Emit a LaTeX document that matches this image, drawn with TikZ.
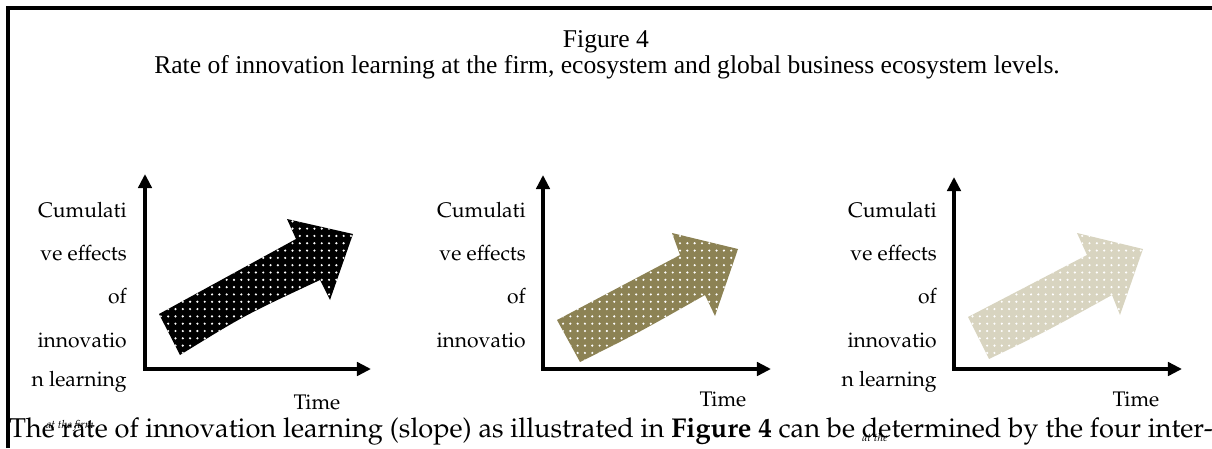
\documentclass[tikz,border=0pt]{standalone}
\usepackage[T1]{fontenc}
\usepackage{fontspec}
\setmainfont{Liberation Serif}
\usetikzlibrary{arrows.meta,patterns.meta}
\newcommand{\pala}{\fontencoding{T1}\fontfamily{ppl}\selectfont}
\definecolor{darkolive}{RGB}{140,130,84}
\definecolor{palekhaki}{RGB}{216,212,192}

\begin{document}
\begin{tikzpicture}[x=0.025cm, y=-0.025cm, >={Triangle[length=10pt,width=9.5pt]},
  axis/.style={line width=2.8pt, <->},
  ylab/.style={anchor=east, inner sep=0pt, font=\pala\fontsize{15}{15}\selectfont},
  timelab/.style={inner sep=0pt, font=\pala\fontsize{15}{15}\selectfont},
  dotted arrow/.style={pattern={Dots[distance=5.2pt,radius=0.85pt]}, pattern color=white}]
  \useasboundingbox (0,0) rectangle (1212,448);
  % frame and caption
  \draw[line width=2.2pt] (8,448) -- (8,8) -- (1212,8);
  \node[font=\fontsize{18.2}{18.2}\selectfont] (fig) at (606,42) {Figure 4};
  \node[font=\fontsize{18.2}{18.2}\selectfont] (cap) at (607,67)
    {Rate of innovation learning at the firm, ecosystem and global business ecosystem levels.};
  % first panel: firm
  \begin{scope}[shift={(145,369)}]
    \coordinate (o1) at (0,0); \coordinate (y1) at (0,-195); \coordinate (x1) at (226,0);
    \draw[axis] (y1) -- (o1) -- (x1);
    \fill[preaction={fill=black}, dotted arrow] (35,-14) -- (14,-55) -- (151,-130) -- (142,-150)
      -- (208,-135) -- (185,-69) -- (175,-89) .. controls (100,-54) .. (35,-14) -- cycle;
    \node[ylab] (c1a) at (-18,-159) {Cumulati};
    \node[ylab] (c1b) at (-18,-116) {ve effects};
    \node[ylab] (c1c) at (-18,-73) {of};
    \node[ylab] (c1d) at (-18,-29) {innovatio};
    \node[ylab] (c1e) at (-18,13) {n learning};
    \node[inner sep=0pt, font=\pala\fontsize{8}{8}\selectfont\itshape] (c1f) at (-75,57) {at the firm};
    \node[timelab] (t1) at (172,33) {Time};
  \end{scope}
  % second panel: ecosystem
  \begin{scope}[shift={(543,369)}]
    \coordinate (o2) at (0,0); \coordinate (y2) at (0,-194); \coordinate (x2) at (228,0);
    \draw[axis] (y2) -- (o2) -- (x2);
    \fill[preaction={fill=darkolive}, dotted arrow] (37,-7) -- (14,-49) -- (137,-114) -- (129,-136)
      -- (195,-120) -- (172,-53) -- (162,-74) .. controls (95,-36) .. (37,-7) -- cycle;
    \node[ylab] (c2a) at (-17,-159) {Cumulati};
    \node[ylab] (c2b) at (-17,-116) {ve effects};
    \node[ylab] (c2c) at (-17,-73) {of};
    \node[ylab] (c2d) at (-17,-29) {innovatio};
    \node[timelab] (t2) at (180,30) {Time};
  \end{scope}
  % third panel: global business ecosystem
  \begin{scope}[shift={(954,369)}]
    \coordinate (o3) at (0,0); \coordinate (y3) at (0,-192); \coordinate (x3) at (228,0);
    \draw[axis] (y3) -- (o3) -- (x3);
    \fill[preaction={fill=palekhaki}, dotted arrow] (35,-10) -- (14,-52) -- (133,-114) -- (123,-136)
      -- (189,-120) -- (166,-54) -- (158,-74) .. controls (93,-38) .. (35,-10) -- cycle;
    \node[ylab] (c3a) at (-17,-159) {Cumulati};
    \node[ylab] (c3b) at (-17,-116) {ve effects};
    \node[ylab] (c3c) at (-17,-73) {of};
    \node[ylab] (c3d) at (-17,-29) {innovatio};
    \node[ylab] (c3e) at (-17,13) {n learning};
    \node[inner sep=0pt, font=\pala\fontsize{8}{8}\selectfont\itshape] (c3f) at (-79,68) {at the};
    \node[timelab] (t3) at (182,30) {Time};
  \end{scope}
  % running text below the figure
  \node[anchor=base west, inner sep=0pt, font=\pala\fontsize{19.35}{19.35}\selectfont] (body) at (9,437)
    {The rate of innovation learning (slope) as illustrated in \textbf{Figure 4} can be determined by the four inter-};
\end{tikzpicture}
\end{document}
